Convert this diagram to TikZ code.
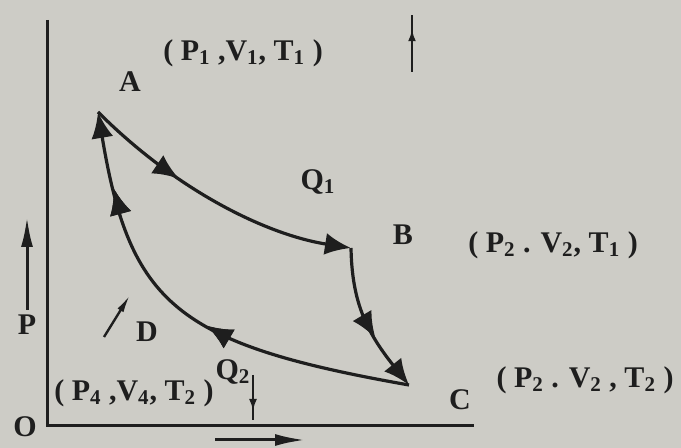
\documentclass[tikz,border=0pt]{standalone}
\usepackage{fontspec}
\setmainfont{Liberation Serif}
\usetikzlibrary{arrows.meta,decorations.markings}
\definecolor{paper}{RGB}{205,204,198}
\definecolor{ink}{RGB}{30,30,30}

\begin{document}
\begin{tikzpicture}[
  x=0.5pt,y=-0.5pt,
  lbl/.style={text=ink,inner sep=0pt,font=\fontsize{15}{17}\selectfont\bfseries},
  axis/.style={draw=ink,line width=1.5pt},
  cyc/.style={draw=ink,line width=1.6pt},
  endtip/.style={-{Latex[length=13pt,width=11pt]}},
  midtip/.style={postaction={decorate},decoration={markings,
    mark=at position #1 with {\arrow{Latex[length=13pt,width=11pt]}}}},
  small/.style={postaction={decorate},decoration={markings,
    mark=at position #1 with {\arrow{Latex[length=6pt,width=4pt]}}}},
  longtip/.style={-{Latex[length=15pt,width=6pt]}}
]
\fill[paper] (0,0) rectangle (681,448);
\useasboundingbox (0,0) rectangle (681,448);

% axes
\coordinate (O) at (47,426);
\coordinate (ytop) at (47,20);
\coordinate (xend) at (474,426);
\draw[axis] (ytop) -- (O) -- (xend);

% states of the cycle
\coordinate (A) at (98,112);
\coordinate (B) at (351,248);
\coordinate (C) at (409,385);

\draw[cyc,endtip,midtip=0.36] (A) .. controls (178,192) and (268,235) .. (B);
\draw[cyc,endtip,midtip=0.62] (B) .. controls (352,300) and (365,330) .. (C);
\draw[cyc,endtip,midtip=0.46,midtip=0.83] (C) .. controls (176,344) and (130,304) .. (A);

% labels
\node[lbl] (lO) at (25,427) {O};
\node[lbl] (lA) at (130,82) {A};
\node[lbl] (lB) at (403,235) {B};
\node[lbl] (lC) at (460,400) {C};
\node[lbl] (lD) at (147,332) {D};
\node[lbl] (lQ1) at (318,182) {Q\textsubscript{1}};
\node[lbl] (lQ2) at (233,372) {Q\textsubscript{2}};
\node[lbl] (sA) at (243,53) {( P\textsubscript{1} ,V\textsubscript{1}, T\textsubscript{1} )};
\node[lbl] (sB) at (553,245) {( P\textsubscript{2} . V\textsubscript{2}, T\textsubscript{1} )};
\node[lbl] (sC) at (585,380) {( P\textsubscript{2} . V\textsubscript{2} , T\textsubscript{2} )};
\node[lbl] (sD) at (134,393) {( P\textsubscript{4} ,V\textsubscript{4}, T\textsubscript{2} )};
\node[lbl] (lP) at (27,325) {P};

% side arrows
\coordinate (pbot) at (27,310);
\coordinate (ptop) at (27,217);
\draw[axis,longtip] (pbot) -- (ptop);
\coordinate (vbeg) at (215,440);
\coordinate (vend) at (305,440);
\draw[axis,longtip] (vbeg) -- (vend);
\coordinate (q1bot) at (412,72);
\coordinate (q1top) at (412,15);
\draw[draw=ink,line width=1.2pt,small=0.75] (q1bot) -- (q1top);
\coordinate (q2top) at (253,375);
\coordinate (q2bot) at (253,420);
\draw[draw=ink,line width=1.2pt,small=0.8] (q2top) -- (q2bot);
\coordinate (dbot) at (104,337);
\coordinate (dtop) at (130,295);
\draw[draw=ink,line width=1.2pt,-{Latex[length=9pt,width=3.5pt]}] (dbot) -- (dtop);
\end{tikzpicture}
\end{document}
